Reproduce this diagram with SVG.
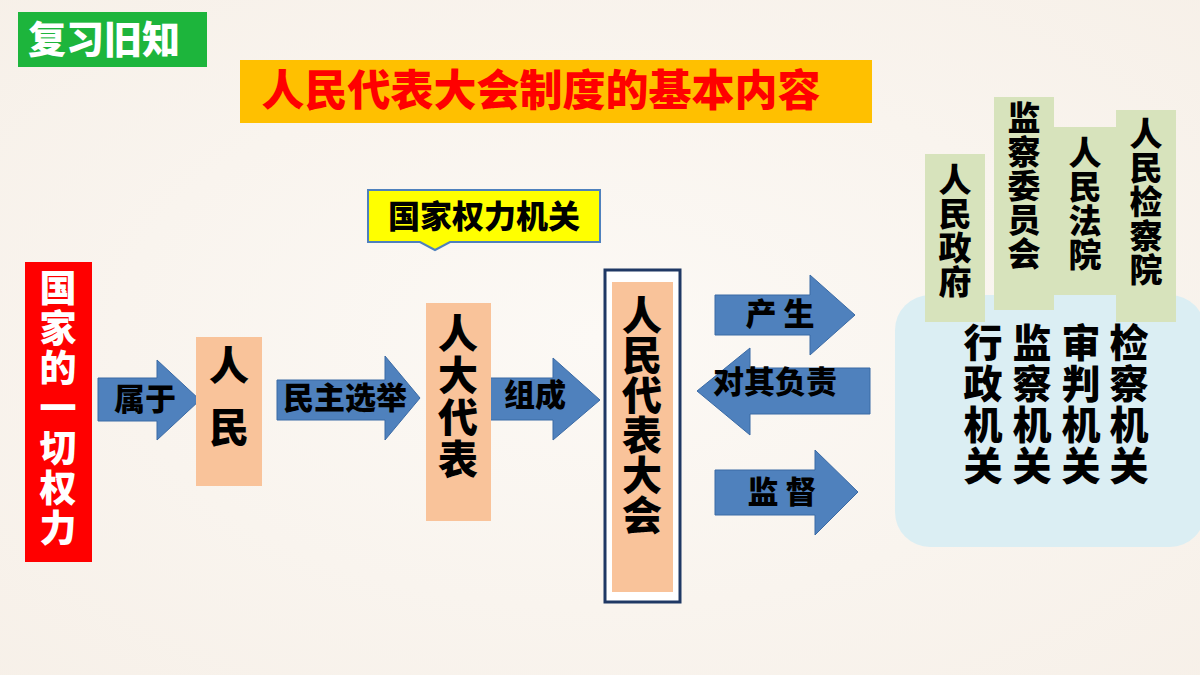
<svg xmlns="http://www.w3.org/2000/svg" width="1200" height="675" viewBox="0 0 1200 675">
<defs>
<style>
text{font-family:"Noto Sans CJK SC","Liberation Sans",sans-serif;font-weight:900;text-anchor:middle}
.arr{fill:#4f81bd;stroke:#3a6aa5;stroke-width:1}
.org{fill:#f9c39a}
.grn{fill:#d7e3bc}
.t40{font-size:40px;fill:#000}
.at{font-size:31px;fill:#000}
</style>
<radialGradient id="bg" cx="0.5" cy="0.5" r="0.8"><stop offset="0" stop-color="#fcf9f5"/><stop offset="1" stop-color="#f6efe7"/></radialGradient>
</defs>
<rect width="1200" height="675" fill="url(#bg)"/>
<g id="header">
<rect x="18" y="12" width="189" height="55" fill="#1db53c"/>
<text x="104" y="53" font-size="38" fill="#fff">复习旧知</text>
<rect x="240" y="60" width="632" height="63" fill="#ffc000"/>
<text x="541" y="106" font-size="43" fill="#ff0000">人民代表大会制度的基本内容</text>
</g>
<g id="connectors">
<polygon class="arr" points="98,378 157,378 157,360 200,400 157,440 157,421 98,421"/>
<polygon class="arr" points="277,380 385,380 385,356 420,398 385,440 385,420 277,420"/>
<polygon class="arr" points="490,378 553,378 553,358 600,400 553,440 553,420 490,420"/>
<polygon class="arr" points="715,295 810,295 810,275 855,315 810,355 810,335 715,335"/>
<polygon class="arr" points="870,368 750,368 750,348 697,391 750,435 750,414 870,414"/>
<polygon class="arr" points="715,470 815,470 815,450 858,492 815,535 815,515 715,515"/>
<text class="at" x="145" y="410">属于</text>
<text class="at" x="345" y="409">民主选举</text>
<text class="at" x="535" y="406">组成</text>
<text class="at" x="780" y="325">产  生</text>
<text class="at" x="775" y="393">对其负责</text>
<text class="at" x="782" y="503">监  督</text>
</g>
<g id="power">
<rect x="25" y="262" width="67" height="300" fill="#ff0000"/>
<text font-size="37" fill="#fff"><tspan x="58" y="302">国</tspan><tspan x="58" y="342">家</tspan><tspan x="58" y="382">的</tspan><tspan x="58" y="422">一</tspan><tspan x="58" y="462">切</tspan><tspan x="58" y="502">权</tspan><tspan x="58" y="542">力</tspan></text>
</g>
<g id="people">
<rect class="org" x="196" y="337" width="66" height="149"/>
<text class="t40"><tspan x="229" y="380">人</tspan><tspan x="229" y="442">民</tspan></text>
</g>
<g id="deputies">
<rect class="org" x="426" y="303" width="65" height="218"/>
<text class="t40"><tspan x="458" y="348">人</tspan><tspan x="458" y="390">大</tspan><tspan x="458" y="432">代</tspan><tspan x="458" y="474">表</tspan></text>
</g>
<g id="label">
<path d="M368,190 L600,190 L600,242 L450,242 L435,250 L420,242 L368,242 Z" fill="#ffff00" stroke="#4f81bd" stroke-width="2"/>
<text x="484" y="228" font-size="32" fill="#000">国家权力机关</text>
</g>
<g id="npc">
<rect x="605" y="270" width="75" height="332" fill="#fff" stroke="#1f3864" stroke-width="3"/>
<rect class="org" x="612" y="282" width="61" height="310"/>
<text class="t40"><tspan x="642" y="330">人</tspan><tspan x="642" y="370">民</tspan><tspan x="642" y="410">代</tspan><tspan x="642" y="450">表</tspan><tspan x="642" y="490">大</tspan><tspan x="642" y="530">会</tspan></text>
</g>
<g id="organs">
<rect x="895" y="295" width="310" height="252" rx="35" fill="#dbeef3"/>
<rect class="grn" x="925" y="154" width="60" height="168"/>
<rect class="grn" x="994" y="97" width="60" height="213"/>
<rect class="grn" x="1054" y="127" width="62" height="168"/>
<rect class="grn" x="1116" y="110" width="60" height="212"/>
<text font-size="33" fill="#000"><tspan x="955" y="192">人</tspan><tspan x="955" y="226">民</tspan><tspan x="955" y="260">政</tspan><tspan x="955" y="294">府</tspan></text>
<text font-size="33" fill="#000"><tspan x="1024" y="130">监</tspan><tspan x="1024" y="164">察</tspan><tspan x="1024" y="198">委</tspan><tspan x="1024" y="232">员</tspan><tspan x="1024" y="266">会</tspan></text>
<text font-size="33" fill="#000"><tspan x="1085" y="165">人</tspan><tspan x="1085" y="199">民</tspan><tspan x="1085" y="233">法</tspan><tspan x="1085" y="267">院</tspan></text>
<text font-size="33" fill="#000"><tspan x="1146" y="146">人</tspan><tspan x="1146" y="180">民</tspan><tspan x="1146" y="214">检</tspan><tspan x="1146" y="248">察</tspan><tspan x="1146" y="282">院</tspan></text>
<text font-size="39" fill="#000"><tspan x="983" y="357">行</tspan><tspan x="983" y="398">政</tspan><tspan x="983" y="439">机</tspan><tspan x="983" y="480">关</tspan></text>
<text font-size="39" fill="#000"><tspan x="1032" y="357">监</tspan><tspan x="1032" y="398">察</tspan><tspan x="1032" y="439">机</tspan><tspan x="1032" y="480">关</tspan></text>
<text font-size="39" fill="#000"><tspan x="1081" y="357">审</tspan><tspan x="1081" y="398">判</tspan><tspan x="1081" y="439">机</tspan><tspan x="1081" y="480">关</tspan></text>
<text font-size="39" fill="#000"><tspan x="1129" y="357">检</tspan><tspan x="1129" y="398">察</tspan><tspan x="1129" y="439">机</tspan><tspan x="1129" y="480">关</tspan></text>
</g>
</svg>
